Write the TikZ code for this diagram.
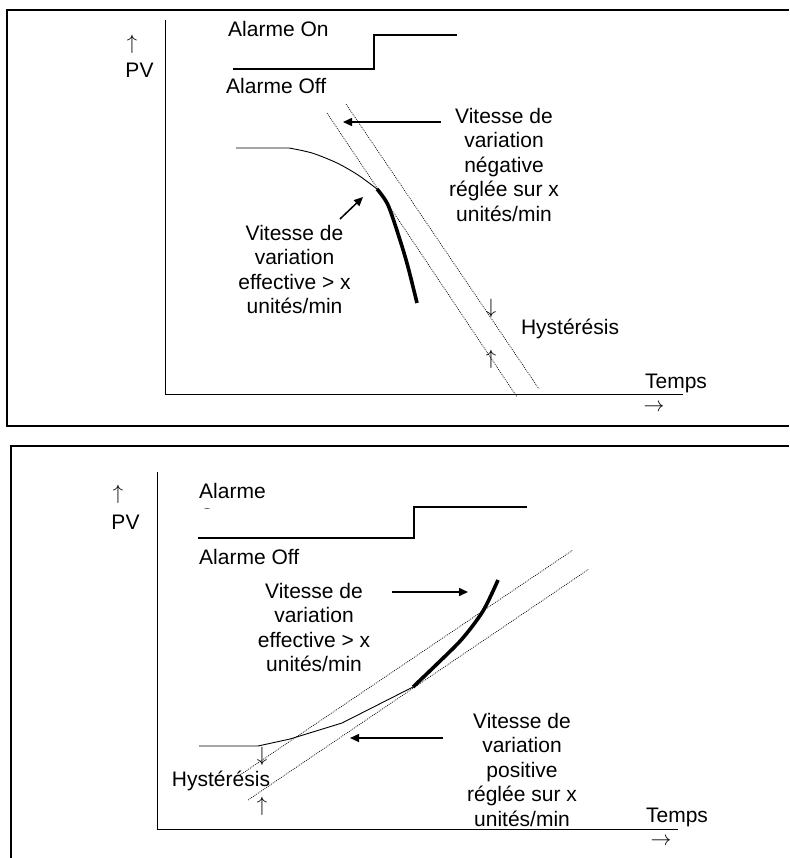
\documentclass[tikz,border=0pt]{standalone}
\usepackage{fontspec}
\setmainfont{Liberation Sans}
\usetikzlibrary{arrows.meta}
\begin{document}
\begin{tikzpicture}[x=1pt,y=-1pt,
  lbl/.style={font=\fontsize{21}{24.6}\selectfont, inner sep=0pt},
  mlbl/.style={lbl, align=center, anchor=north},
  arr/.style={font=\fontsize{22}{24}\selectfont, inner sep=0pt},
  frame/.style={line width=1.8pt},
  axis/.style={line width=0.9pt},
  alarm/.style={line width=2.4pt},
  thincurve/.style={line width=0.9pt},
  thickcurve/.style={line width=3.6pt},
  dotline/.style={line width=0.7pt, dash pattern=on 0.9pt off 1.1pt},
  pointer/.style={line width=1.5pt, -{Triangle[length=9pt,width=8pt]}}]
\useasboundingbox (0,0) rectangle (789,858);
% ===== top panel =====
\draw[frame] (789,10) -- (7,10) -- (7,426) -- (789,426);
\draw[axis] (165,20) -- (165,394) -- (683,394);
\node[arr] (tUp) at (132,44) {$\uparrow$};
\node[lbl, anchor=base] (tPV) at (139.5,78) {PV};
\node[lbl, anchor=base west] (tOn) at (228,37) {Alarme On};
\node[lbl, anchor=base west] (tOff) at (226,94) {Alarme Off};
\draw[alarm] (233,69) -- (374,69) -- (374,35) -- (457,35);
\draw[dotline] (327,113) -- (517,397);
\draw[dotline] (346,104) -- (539,389);
\draw[thincurve] (236,148) -- (289,148) plot[smooth] coordinates {(289,148) (312,153) (337,163) (358,175) (377,189)};
\draw[thickcurve] plot[smooth] coordinates {(377,189) (388,205) (400,240) (408,267) (417,303)};
\node[mlbl] (tNeg) at (504,107.7) {Vitesse de\\variation\\négative\\réglée sur x\\unités/min};
\coordinate (tNegTail) at (441,122);
\coordinate (tNegTip) at (343,122);
\draw[pointer] (tNegTail) -- (tNegTip);
\node[mlbl] (tEff) at (294.5,224.7) {Vitesse de\\variation\\effective > x\\unités/min};
\coordinate (tEffTail) at (340,219);
\coordinate (tEffTip) at (363,197);
\draw[pointer] (tEffTail) -- (tEffTip);
\node[arr] (tDown) at (491,308) {$\downarrow$};
\node[arr] (tUp2) at (491,359) {$\uparrow$};
\node[lbl, anchor=base] (tHys) at (570,334) {Hystérésis};
\node[lbl, anchor=base] (tTemps) at (676,388) {Temps};
\node[arr] (tRight) at (654,408) {$\rightarrow$};
% ===== bottom panel =====
\draw[frame] (789,446) -- (11,446) -- (11,858);
\draw[axis] (157,472) -- (157,829) -- (678,829);
\node[arr] (bUp) at (118,494) {$\uparrow$};
\node[lbl, anchor=base] (bPV) at (125.5,529) {PV};
\node[lbl, anchor=base west] (bAl) at (199,498) {Alarme};
\begin{scope}
  \clip (190,500) rectangle (260,508.5);
  \node[lbl, anchor=base west] (bOn) at (199,523) {On};
\end{scope}
\node[lbl, anchor=base west] (bOff) at (199,564) {Alarme Off};
\draw[alarm] (198,538) -- (414,538) -- (414,507) -- (527,507);
\draw[dotline] (240,775) -- (573,550);
\draw[dotline] (248,800) -- (589,569);
\draw[thincurve] (199,746) -- (258,746) -- (290,739) -- (342,723) -- (413,687);
\draw[thickcurve] plot[smooth] coordinates {(413,687) (437,664) (462,639) (483,611) (498,580)};
\node[mlbl] (bEff) at (314,582.7) {Vitesse de\\variation\\effective > x\\unités/min};
\coordinate (bEffTail) at (392,592);
\coordinate (bEffTip) at (468,592);
\draw[pointer] (bEffTail) -- (bEffTip);
\node[mlbl] (bPos) at (522,712.7) {Vitesse de\\variation\\positive\\réglée sur x\\unités/min};
\coordinate (bPosTail) at (443,738);
\coordinate (bPosTip) at (350,738);
\draw[pointer] (bPosTail) -- (bPosTip);
\node[arr] (bDown) at (262,756) {$\downarrow$};
\node[arr] (bUp2) at (262,806) {$\uparrow$};
\node[lbl, anchor=base] (bHys) at (221,786) {Hystérésis};
\node[lbl, anchor=base] (bTemps) at (677,822) {Temps};
\node[arr] (bRight) at (661,842) {$\rightarrow$};
\end{tikzpicture}
\end{document}
